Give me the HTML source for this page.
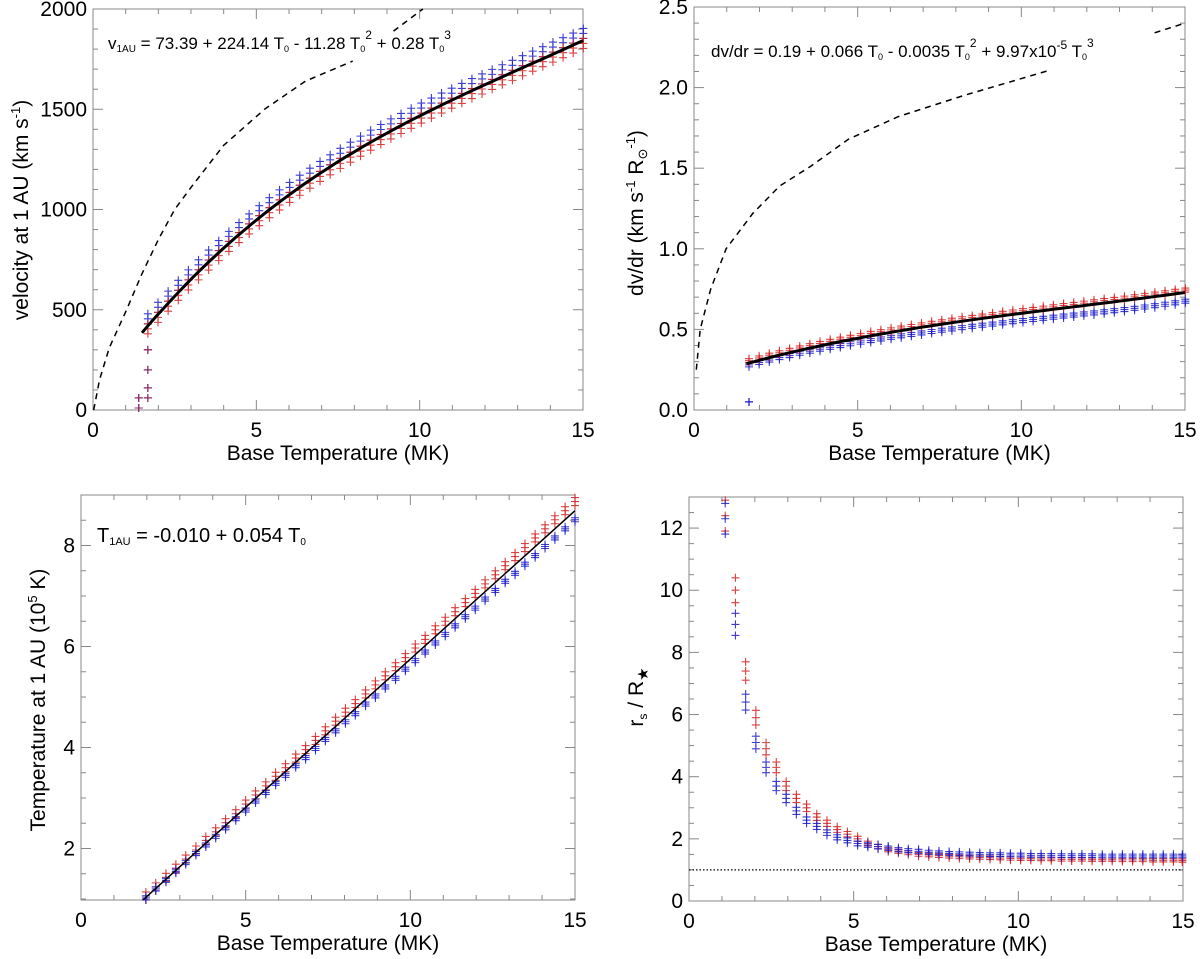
<!DOCTYPE html>
<html><head><meta charset="utf-8"><style>
body{margin:0;background:#fff}
svg{display:block;font-family:"Liberation Sans",sans-serif}
</style></head><body>
<svg id="fig" width="1200" height="959" viewBox="0 0 1200 959" xmlns="http://www.w3.org/2000/svg">
<rect width="1200" height="959" fill="#fff"/>
</svg>
<script>
// ---- Panel 1 data: velocity at 1 AU ----
const p1T = [1.68,1.99,2.30,2.61,2.92,3.23,3.54,3.85,4.16,4.47,4.78,5.09,5.40,5.71,6.02,6.33,6.64,6.95,7.26,7.57,7.88,8.19,8.50,8.81,9.12,9.43,9.74,10.05,10.36,10.67,10.98,11.29,11.60,11.91,12.22,12.53,12.84,13.15,13.46,13.77,14.08,14.39,14.70,15.01];
const p1Blue = [455,512,568,622,674,724,773,820,866,910,953,994,1034,1073,1110,1146,1181,1215,1248,1280,1311,1341,1371,1399,1427,1454,1480,1506,1531,1556,1580,1604,1628,1651,1674,1697,1719,1742,1765,1787,1810,1832,1855,1878];
const p1Red = [405,462,518,572,624,674,723,770,816,860,903,944,984,1023,1060,1096,1131,1165,1198,1230,1261,1291,1321,1349,1377,1404,1430,1456,1481,1506,1530,1554,1578,1601,1624,1647,1669,1692,1715,1737,1760,1782,1805,1828];
const p1OutT = [1.40,1.40,1.68,1.68,1.68,1.68];
const p1OutV = [10,60,300,200,110,60];
const p1Coef = [73.39,224.14,-11.28,0.28];
const p1DashT = [0.02,0.2,0.5,1.0,1.5,2.0,2.5,3.0,4.0,5.25,6.5,7.95];
const p1DashV = [0,150,310,490,680,850,1000,1110,1320,1500,1640,1740];
const p1Dash2T = [9.2,10.1];
const p1Dash2V = [1890,2000];
// ---- Panel 2 data: dv/dr ----
const p2T = p1T;
const p2Red = [.306,.323,.340,.355,.370,.385,.399,.413,.426,.439,.451,.463,.475,.486,.497,.508,.518,.528,.538,.547,.557,.566,.574,.583,.591,.600,.608,.616,.624,.632,.640,.648,.655,.663,.671,.679,.686,.694,.702,.711,.719,.727,.736,.744];
const p2Blue = [.280,.295,.310,.325,.338,.352,.365,.377,.389,.400,.411,.421,.431,.441,.451,.460,.469,.478,.487,.495,.503,.511,.519,.526,.533,.541,.548,.555,.562,.569,.576,.583,.589,.596,.602,.609,.616,.623,.631,.639,.647,.656,.665,.675];
const p2OutT = [1.68];
const p2OutV = [0.05];
const p2Coef = [0.19,0.066,-0.0035,9.97e-5];
const p2DashT = [0.07,0.19,0.51,0.98,1.8,2.62,3.55,4.72,6.24,8.22,10.9];
const p2DashV = [0.25,0.5,0.75,1.0,1.22,1.39,1.51,1.68,1.82,1.95,2.11];
const p2Dash2T = [14.07,15.0];
const p2Dash2V = [2.34,2.40];
// ---- Panel 3 data: temperature at 1 AU ----
const p3T = [1.97,2.27,2.58,2.88,3.18,3.49,3.79,4.09,4.39,4.70,5.00,5.30,5.61,5.91,6.21,6.52,6.82,7.12,7.42,7.73,8.03,8.33,8.64,8.94,9.24,9.55,9.85,10.15,10.45,10.76,11.06,11.36,11.67,11.97,12.27,12.58,12.88,13.18,13.48,13.79,14.09,14.39,14.70,15.00];
const p3Blue = [1.02,1.20,1.37,1.55,1.72,1.90,2.07,2.24,2.41,2.59,2.76,2.94,3.11,3.29,3.45,3.64,3.80,3.98,4.16,4.33,4.51,4.67,4.86,5.02,5.20,5.37,5.55,5.72,5.89,6.07,6.24,6.41,6.59,6.76,6.94,7.11,7.29,7.45,7.63,7.80,7.98,8.15,8.33,8.51];
const p3Red = [1.06,1.24,1.43,1.61,1.79,1.97,2.16,2.33,2.51,2.69,2.88,3.06,3.24,3.43,3.60,3.79,3.96,4.14,4.33,4.52,4.70,4.87,5.06,5.24,5.42,5.60,5.78,5.97,6.14,6.33,6.50,6.69,6.87,7.05,7.24,7.42,7.60,7.78,7.96,8.15,8.33,8.51,8.69,8.87];
const p3LineT = [1.88,15.0];
const p3LineV = [0.98,8.69];
// ---- Panel 4 data: sonic point ----
const p4T = [1.10,1.41,1.72,2.03,2.34,2.65,2.95,3.26,3.57,3.88,4.19,4.50,4.81,5.12,5.43,5.74,6.05,6.36,6.66,6.97,7.28,7.59,7.90,8.21,8.52,8.83,9.14,9.45,9.76,10.07,10.38,10.69,11.00,11.31,11.62,11.93,12.24,12.55,12.85,13.16,13.47,13.78,14.09,14.40,14.71,14.98];
const p4Red = [12.4,10.0,7.4,5.9,4.9,4.3,3.7,3.3,3.0,2.7,2.5,2.3,2.15,2.0,1.85,1.75,1.65,1.6,1.55,1.5,1.48,1.46,1.44,1.42,1.41,1.40,1.39,1.38,1.37,1.36,1.36,1.35,1.35,1.34,1.34,1.34,1.33,1.33,1.33,1.32,1.32,1.32,1.31,1.31,1.31,1.30];
const p4Blue = [12.3,8.9,6.4,5.1,4.3,3.7,3.3,2.9,2.6,2.4,2.2,2.05,1.95,1.85,1.8,1.75,1.7,1.65,1.62,1.6,1.57,1.55,1.53,1.52,1.51,1.5,1.49,1.49,1.48,1.48,1.47,1.47,1.47,1.46,1.46,1.46,1.46,1.45,1.45,1.45,1.45,1.45,1.45,1.45,1.45,1.45];
const p4RefLine = [1.0];

const NS = 'http://www.w3.org/2000/svg';
const svg = document.getElementById('fig');
function mk(tag, attrs, parent){
  const e = document.createElementNS(NS, tag);
  for (const k in attrs) e.setAttribute(k, attrs[k]);
  (parent||svg).appendChild(e);
  return e;
}
function panel(cfg){
  const g = mk('g', {});
  
  
  const sx = v => cfg.x0 + (v - cfg.xmin) / (cfg.xmax - cfg.xmin) * (cfg.x1 - cfg.x0);
  const sy = v => cfg.y1 - (v - cfg.ymin) / (cfg.ymax - cfg.ymin) * (cfg.y1 - cfg.y0);
  const box = mk('rect', {x:cfg.x0, y:cfg.y0, width:cfg.x1-cfg.x0, height:cfg.y1-cfg.y0, fill:'none', stroke:'#888', 'stroke-width':1}, g);
  
  
  const isMajor = (v, m) => Math.abs(v/m - Math.round(v/m)) < 1e-3;
  // x ticks
  const xs = Math.ceil(cfg.xmin/cfg.xminor - 1e-6), xe = Math.floor(cfg.xmax/cfg.xminor + 1e-6);
  for (let k = xs; k <= xe; k++){
    const v = k*cfg.xminor;
    const major = isMajor(v, cfg.xmajor);
    const L = major ? 10 : 5, X = sx(v);
    mk('line', {x1:X, x2:X, y1:cfg.y1, y2:cfg.y1-L, stroke:'#888'}, g);
    mk('line', {x1:X, x2:X, y1:cfg.y0, y2:cfg.y0+L, stroke:'#888'}, g);
    if (major){
      const t = mk('text', {x:X, y:cfg.y1+27, 'font-size':21, 'text-anchor':'middle'}, g);
      t.textContent = String(Math.round(v));
      
      
    }
  }
  // y ticks
  const ys = Math.ceil(cfg.ymin/cfg.yminor - 1e-6), ye = Math.floor(cfg.ymax/cfg.yminor + 1e-6);
  for (let k = ys; k <= ye; k++){
    const v = k*cfg.yminor;
    const major = isMajor(v, cfg.ymajor);
    const L = major ? 10 : 5, Y = sy(v);
    mk('line', {x1:cfg.x0, x2:cfg.x0+L, y1:Y, y2:Y, stroke:'#888'}, g);
    mk('line', {x1:cfg.x1, x2:cfg.x1-L, y1:Y, y2:Y, stroke:'#888'}, g);
    if (major){
      const t = mk('text', {x:cfg.x0-6, y:Y+7, 'font-size':21, 'text-anchor':'end'}, g);
      t.textContent = v.toFixed(cfg.ydec);
      
      
    }
  }
  const xt = mk('text', {x:(cfg.x0+cfg.x1)/2, y:cfg.y1+50, 'font-size':21, 'text-anchor':'middle'}, g);
  xt.textContent = 'Base Temperature (MK)';
  
  
  const yt = mk('text', {x:0, y:0, 'font-size':21, 'text-anchor':'middle', transform:`translate(${cfg.ytx},${cfg.yty}) rotate(-90)`}, g);
  yt.innerHTML = cfg.ytitle;
  
  
  return {g, sx, sy};
}
function crosses(p, T, V, color, name, spreadPx, rel){
  const g = mk('g', {stroke:color, 'stroke-width':1.1, 'stroke-opacity':0.85}, p.g);
  
  
  for (let i = 0; i < T.length; i++){
    const X = p.sx(T[i]);
    const offs = rel ? [p.sy(V[i]*1.04), p.sy(V[i]), p.sy(V[i]*0.96)] : [p.sy(V[i])-spreadPx, p.sy(V[i]), p.sy(V[i])+spreadPx];
    for (const Y of offs){
      const c = mk('path', {d:`M${X-4},${Y}H${X+4}M${X},${Y-4}V${Y+4}`, fill:'none'}, g);
      
      
    }
  }
}
function polyline(p, T, V, attrs, name){
  const pts = T.map((t,i)=>p.sx(t).toFixed(1)+','+p.sy(V[i]).toFixed(1)).join(' ');
  const l = mk('polyline', Object.assign({points:pts, fill:'none'}, attrs), p.g);
  
  
}
function poly(c, t){ return c[0]+c[1]*t+c[2]*t*t+c[3]*t*t*t; }
function fitLine(p, coef, t0, t1, name){
  const T=[], V=[];
  for (let k=0;k<=60;k++){ const t=t0+(t1-t0)*k/60; T.push(t); V.push(poly(coef,t)); }
  polyline(p, T, V, {stroke:'#000','stroke-width':3}, name);
}
function label(p, x, y, html, size, name){
  const t = mk('text', {x, y, 'font-size':size}, p.g);
  t.innerHTML = html;
  
  
}
const BLUE = '#1a1ac8', RED = '#d42020';

const P1 = panel({name:'velocity-panel', x0:93, x1:583, y0:9, y1:410, xmin:0, xmax:15, xmajor:5, xminor:1,
  ymin:0, ymax:2000, ymajor:500, yminor:100, ydec:0, ytx:28, yty:210,
  ytitle:'velocity at 1 AU (km s<tspan dy="-8" font-size="13">-1</tspan><tspan dy="8">)</tspan>'});
polyline(P1, p1DashT, p1DashV, {stroke:'#000','stroke-width':1.5,'stroke-dasharray':'6,5'}, 'dashed-curve');
polyline(P1, p1Dash2T, p1Dash2V, {stroke:'#000','stroke-width':1.5,'stroke-dasharray':'6,5'}, 'dashed-curve-upper');
crosses(P1, p1T, p1Blue, BLUE, 'blue-series', 5);
crosses(P1, p1T, p1Red, RED, 'red-series', 5);
crosses(P1, p1OutT, p1OutV, '#8a2a6a', 'outlier-points', 0);
fitLine(P1, p1Coef, 1.5, 15, 'fit-line');
label(P1, 108, 49, 'v<tspan font-size="10" dy="3">1AU</tspan><tspan dy="-3"> = 73.39 + 224.14 T</tspan><tspan font-size="9" dy="3">0</tspan><tspan dy="-3"> - 11.28 T</tspan><tspan font-size="9" dy="3">0</tspan><tspan font-size="12" dy="-13">2</tspan><tspan dy="10"> + 0.28 T</tspan><tspan font-size="9" dy="3">0</tspan><tspan font-size="12" dy="-13">3</tspan>', 17, 'fit-equation');

const P2 = panel({name:'dvdr-panel', x0:694, x1:1185, y0:7, y1:410, xmin:0, xmax:15, xmajor:5, xminor:1,
  ymin:0, ymax:2.5, ymajor:0.5, yminor:0.1, ydec:1, ytx:643, yty:213,
  ytitle:'dv/dr (km s<tspan dy="-8" font-size="13">-1</tspan><tspan dy="8"> R</tspan><tspan font-size="13" dy="4">⊙</tspan><tspan font-size="13" dy="-12">-1</tspan><tspan dy="8">)</tspan>'});
polyline(P2, p2DashT, p2DashV, {stroke:'#000','stroke-width':1.5,'stroke-dasharray':'6,5'}, 'dashed-curve');
polyline(P2, p2Dash2T, p2Dash2V, {stroke:'#000','stroke-width':1.5,'stroke-dasharray':'6,5'}, 'dashed-curve-upper');
crosses(P2, p2T, p2Blue, BLUE, 'blue-series', 2);
crosses(P2, p2T, p2Red, RED, 'red-series', 2);
crosses(P2, p2OutT, p2OutV, BLUE, 'outlier-point', 0);
fitLine(P2, p2Coef, 1.6, 15, 'fit-line');
label(P2, 711, 57, 'dv/dr = 0.19 + 0.066 T<tspan font-size="9" dy="3">0</tspan><tspan dy="-3"> - 0.0035 T</tspan><tspan font-size="9" dy="3">0</tspan><tspan font-size="12" dy="-13">2</tspan><tspan dy="10"> + 9.97x10</tspan><tspan font-size="12" dy="-8">-5</tspan><tspan dy="8"> T</tspan><tspan font-size="9" dy="3">0</tspan><tspan font-size="12" dy="-13">3</tspan>', 17, 'fit-equation');

const P3 = panel({name:'temperature-panel', x0:81, x1:575, y0:495, y1:900, xmin:0, xmax:15, xmajor:5, xminor:1,
  ymin:0.98, ymax:9.0, ymajor:2, yminor:0.5, ydec:0, ytx:45, yty:700,
  ytitle:'Temperature at 1 AU (10<tspan dy="-8" font-size="13">5</tspan><tspan dy="8"> K)</tspan>'});
crosses(P3, p3T, p3Red, RED, 'red-series', 4);
crosses(P3, p3T, p3Blue, BLUE, 'blue-series', 2);
polyline(P3, p3LineT, p3LineV, {stroke:'#000','stroke-width':1.5}, 'fit-line');
label(P3, 97, 542, 'T<tspan font-size="11" dy="3">1AU</tspan><tspan dy="-3"> = -0.010 + 0.054 T</tspan><tspan font-size="10" dy="3">0</tspan>', 20, 'fit-equation');

const P4 = panel({name:'sonic-point-panel', x0:689, x1:1183, y0:497, y1:901, xmin:0, xmax:15, xmajor:5, xminor:1,
  ymin:0, ymax:13, ymajor:2, yminor:0.5, ydec:0, ytx:643, yty:697,
  ytitle:'r<tspan font-size="12" dy="4">s</tspan><tspan dy="-4"> / R</tspan><tspan font-size="15" dy="5">★</tspan>'});
polyline(P4, [0,15], [p4RefLine[0], p4RefLine[0]], {stroke:'#000','stroke-width':1.3,'stroke-dasharray':'1.5,2'}, 'reference-line');
crosses(P4, p4T, p4Red, RED, 'red-series', 0, true);
crosses(P4, p4T, p4Blue, BLUE, 'blue-series', 0, true);
</script>
</body></html>
